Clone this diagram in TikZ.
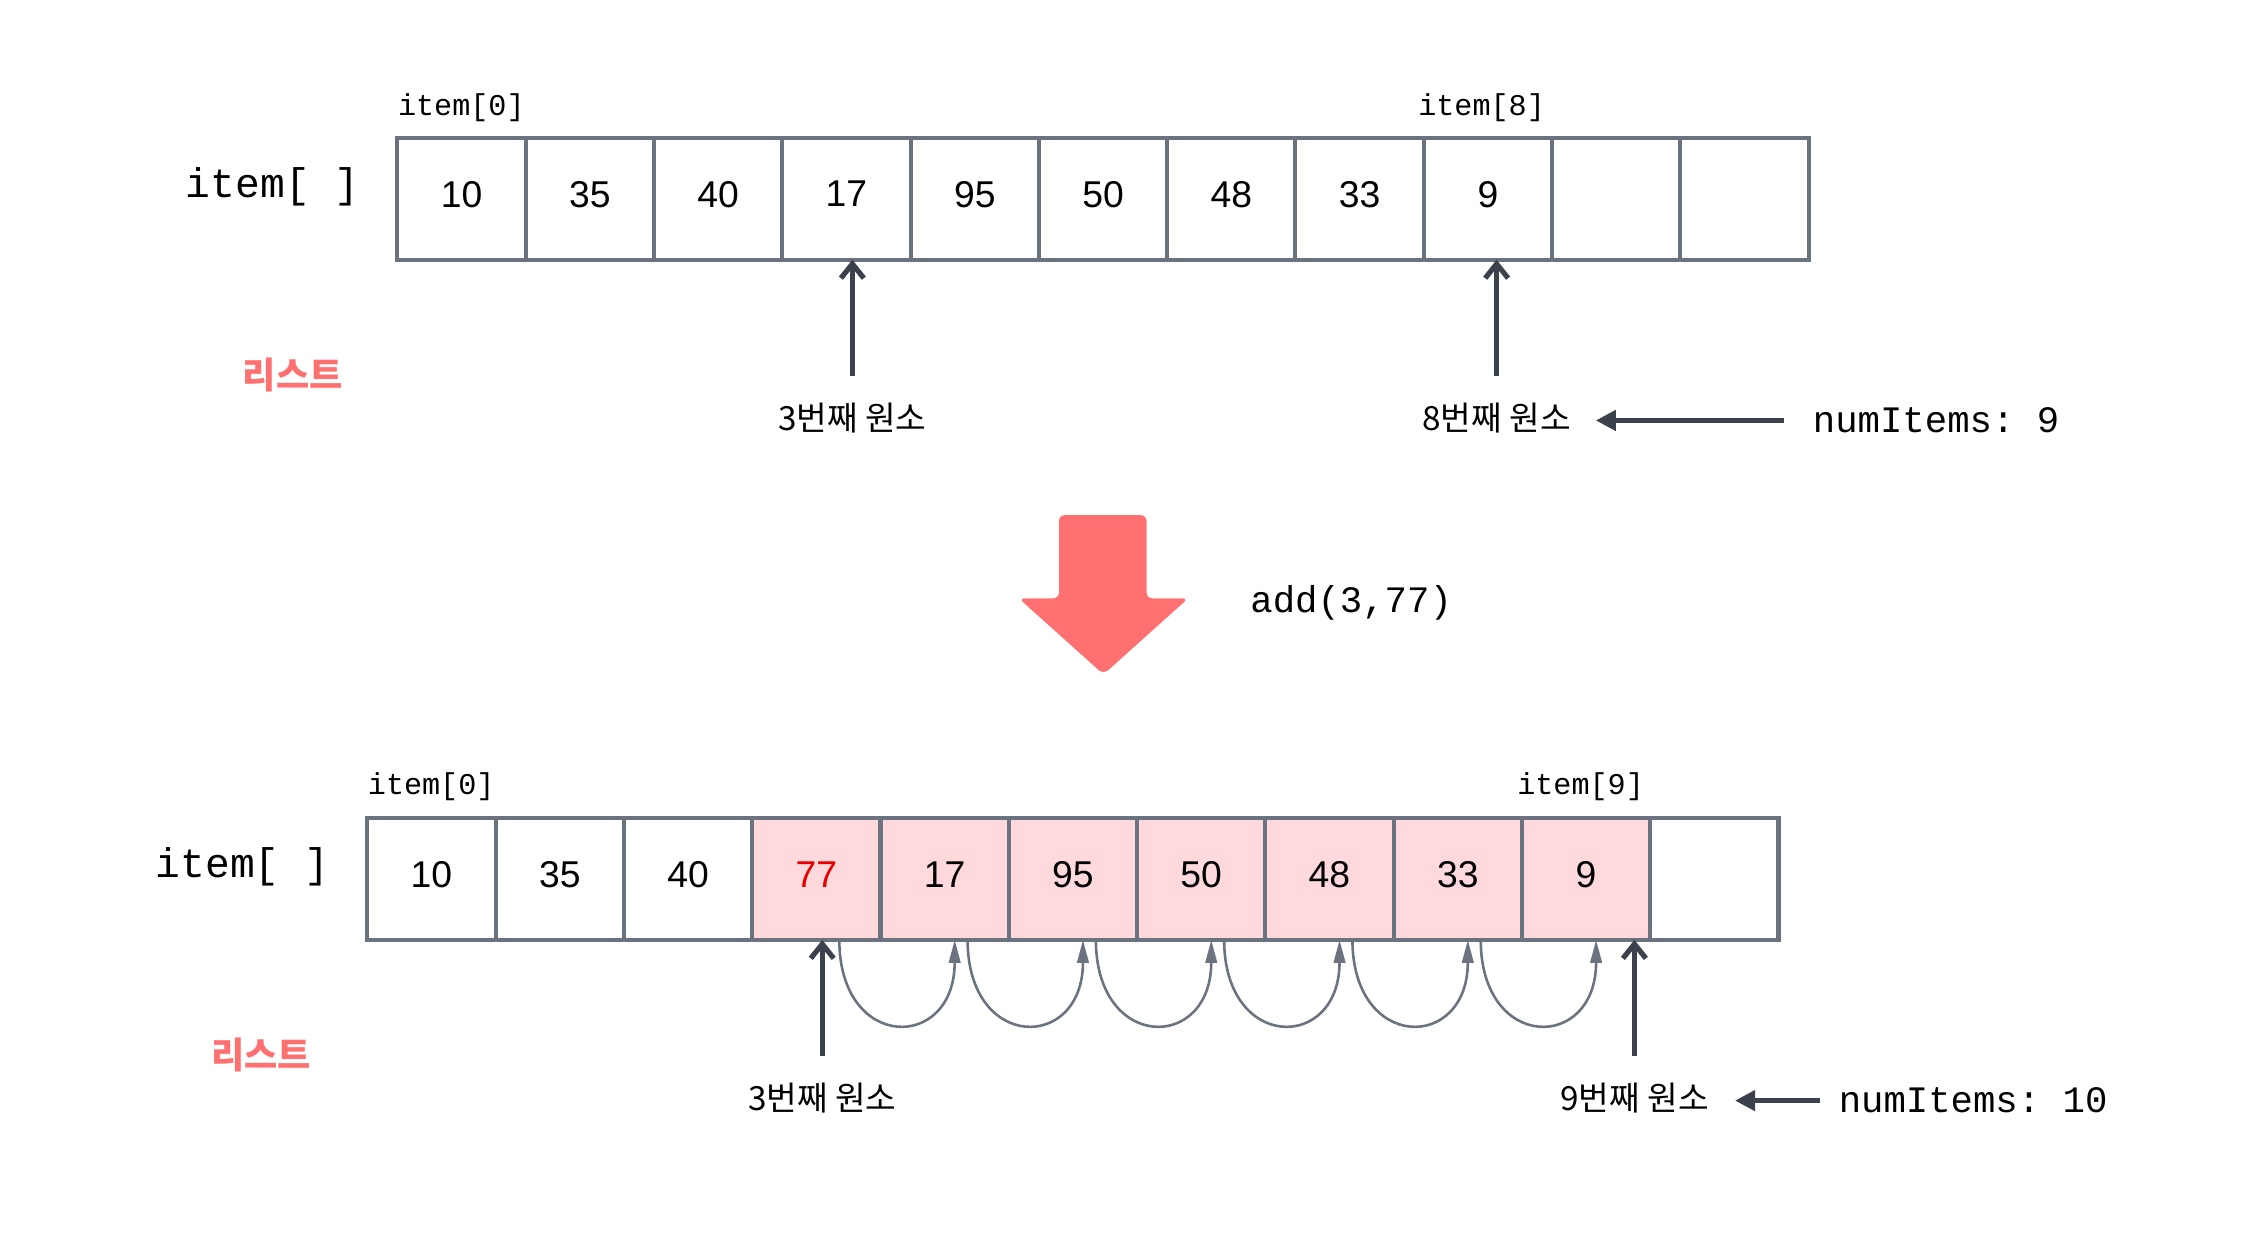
\documentclass[tikz,border=0pt]{standalone}
\usepackage{fontspec}
\setmainfont{Liberation Sans}
\setmonofont{Liberation Mono}
\newfontfamily\krfont{Noto Sans CJK KR}
\usepackage{tikz}
\usetikzlibrary{arrows.meta, calc}
\definecolor{cellgray}{RGB}{107,114,128}
\definecolor{ptrcol}{RGB}{60,66,76}
\definecolor{listred}{RGB}{255,112,112}
\definecolor{shiftpink}{RGB}{255,217,219}
\definecolor{newred}{RGB}{230,0,0}
\tikzset{
  cell/.style={rectangle, draw=cellgray, line width=1.4pt, fill=white,
    minimum width=44.7pt, minimum height=42.5pt, inner sep=0pt, outer sep=0pt,
    text depth=3.2pt, font=\fontsize{13}{15}\selectfont},
  cellS/.style={cell, fill=shiftpink},
  cellN/.style={cellS, text=newred},
  arrname/.style={font=\ttfamily\fontsize{14.4}{16}\selectfont, inner sep=0pt},
  idx/.style={font=\ttfamily\fontsize{10.5}{12}\selectfont, inner sep=0pt, anchor=west},
  kor/.style={font=\krfont\fontsize{11.6}{13}\selectfont, inner sep=0pt},
  lst/.style={font=\krfont\bfseries\fontsize{12.6}{14}\selectfont, text=listred, inner sep=0pt},
  cnt/.style={font=\ttfamily\fontsize{13}{15}\selectfont, inner sep=0pt, anchor=west},
  ptr/.style={-{Straight Barb[length=5pt,width=8pt]}, line width=1.8pt, draw=ptrcol},
  ptrL/.style={-{Triangle[length=7pt,width=7pt]}, line width=1.6pt, draw=ptrcol},
  mv/.style={-{Triangle[length=8pt,width=4pt]}, line width=0.9pt, draw=cellgray},
}

\begin{document}
\begin{tikzpicture}[x=0.5pt, y=0.5pt]
  % canvas 1568 x 863 units
  \useasboundingbox (0,0) rectangle (1568,863);

  % ---- before: item[] with 9 items ----
  \foreach \v [count=\i from 0] in {10,35,40,17,95,50,48,33,9,{},{}}
    \node[cell] (t\i) at (321.7+89.4*\i, 724.5) {\v};

  \node[arrname] (tname) at (190,733) {item[ ]};
  \node[idx] (tidx0) at (277,788) {item[0]};
  \node[idx] (tidx8) at (988,788) {item[8]};
  \node[lst] (tlist) at (204,602) {리스트};

  \node[kor] (tlbl3) at (594,572) {3번째 원소};
  \node[kor] (tlbl8) at (1043,572) {8번째 원소};
  \node[cnt] (tnum) at (1263,570) {numItems: 9};

  \coordinate (tp3) at (594,601);
  \coordinate (tp8) at (1043,601);
  \draw[ptr] (tp3) -- (tp3 |- t3.south);
  \draw[ptr] (tp8) -- (tp8 |- t8.south);
  \draw[ptrL, shorten <=10pt, shorten >=8.5pt] (tnum.west) -- (tnum.west -| tlbl8.east);

  % ---- the add call ----
  \fill[listred, rounded corners=2pt]
    (738,504) -- (799,504) -- (799,446) -- (828,446) -- (769,393)
    -- (710,446) -- (738,446) -- cycle;
  \node[cnt] (call) at (871,443) {add(3,77)};

  % ---- after: item[] with 10 items ----
  \foreach \v/\s [count=\i from 0] in {10/cell,35/cell,40/cell,77/cellN,17/cellS,
      95/cellS,50/cellS,48/cellS,33/cellS,9/cellS,{}/cell}
    \node[\s] (b\i) at (300.7+89.4*\i, 250.5) {\v};

  \node[arrname] (bname) at (169,259) {item[ ]};
  \node[idx] (bidx0) at (256,315) {item[0]};
  \node[idx] (bidx9) at (1057,315) {item[9]};
  \node[lst] (blist) at (182,128) {리스트};

  \node[kor] (blbl3) at (573,98) {3번째 원소};
  \node[kor] (blbl9) at (1139,98) {9번째 원소};
  \node[cnt] (bnum) at (1281,96) {numItems: 10};

  \coordinate (bp3) at (573,127);
  \coordinate (bp9) at (1139,127);
  \draw[ptr] (bp3) -- (bp3 |- b3.south);
  \draw[ptr] (bp9) -- (bp9 |- b9.south);
  \draw[ptrL, shorten <=6.5pt, shorten >=9pt] (bnum.west) -- (bnum.west -| blbl9.east);

  % shifting each item one place right
  \foreach \i in {3,...,8} {
    \pgfmathtruncatemacro\j{\i+1}
    \draw[mv] ([xshift=8pt]b\i.south) .. controls +(0,-78) and +(0,-78) .. ([xshift=3.5pt]b\j.south);
  }
\end{tikzpicture}
\end{document}
